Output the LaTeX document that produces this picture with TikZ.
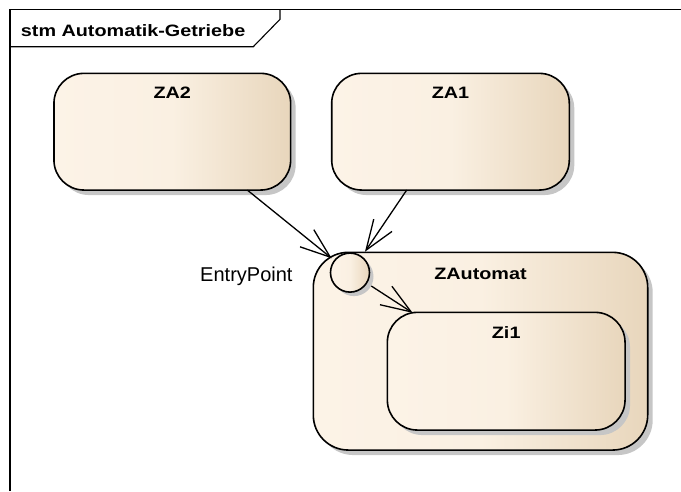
\documentclass[tikz,border=0pt]{standalone}
\usepackage{fontspec}
\setmainfont{Liberation Sans}
\newfontfamily\widesans[FakeStretch=1.2]{Liberation Sans}
\usetikzlibrary{arrows.meta,shadows,calc}
\definecolor{creamL}{HTML}{FCF3E7}
\definecolor{creamM}{HTML}{FAF0E2}
\definecolor{creamR}{HTML}{E8D6BC}
\definecolor{shadowgray}{HTML}{C6C6C6}
\tikzset{
  statebox/.style={draw, line width=1.6pt, rounded corners=#1, left color=creamL, right color=creamR, middle color=creamM,
    drop shadow={shadow xshift=5pt, shadow yshift=-5pt, fill=shadowgray, opacity=1}, inner sep=0pt, outer sep=0pt},
  statebox/.default=30pt,
  statelabel/.style={font=\widesans\bfseries\fontsize{16.5}{18}\selectfont, anchor=base, inner sep=0pt},
  arr/.style={line width=1.3pt, -{Straight Barb[length=30pt,width=22pt,line width=1.3pt]}},
}
\begin{document}
\begin{tikzpicture}[x=1pt,y=-1pt]
\useasboundingbox (0,0) rectangle (681,491);
% frame
\draw[line width=1.3pt] (10,491) -- (10,9.5) -- (681,9.5);
\draw[line width=1.1pt] (10,46.7) -- (253.3,46.7) -- (280,19.3) -- (280,9.5);
\node[anchor=base west, inner sep=0pt, font=\widesans\bfseries\fontsize{16.5}{18}\selectfont] (title) at (20.7,36) {stm Automatik-Getriebe};
% states
\node[statebox, minimum width=236.7pt, minimum height=116.7pt] (ZA2) at (172.3,131.7) {};
\node[statelabel] (ZA2t) at ([yshift=-24.7pt]ZA2.north) {ZA2};
\node[statebox, minimum width=237.6pt, minimum height=116.7pt] (ZA1) at (450.5,131.7) {};
\node[statelabel] (ZA1t) at ([yshift=-25pt]ZA1.north) {ZA1};
\node[statebox=35pt, minimum width=334.4pt, minimum height=197.7pt] (ZAutomat) at (480.5,351.2) {};
\node[statelabel] (ZAutomatt) at ([yshift=-26.7pt]ZAutomat.north) {ZAutomat};
\node[statebox, minimum width=237.7pt, minimum height=117.7pt] (Zi1) at (506.2,371.2) {};
\node[statelabel] (Zi1t) at ([yshift=-26pt]Zi1.north) {Zi1};
% entry point
\node[circle, draw, line width=1.6pt, minimum size=39pt, inner sep=0pt, outer sep=0pt, left color=creamL, right color=creamR, middle color=creamM,
  drop shadow={shadow xshift=4pt, shadow yshift=-4pt, fill=shadowgray, opacity=1}] (entry) at (350,272.6) {};
\node[anchor=base east, inner sep=0pt, font=\fontsize{20}{24}\selectfont] (eplabel) at (292.7,281.7) {EntryPoint};
% transitions
\draw[arr] ([xshift=75pt]ZA2.south) -- ([shift={(-18.3,-14.3)}]entry.center);
\draw[arr] ([xshift=-43.8pt]ZA1.south) -- ([shift={(15,-20.9)}]entry.center);
\draw[arr] ([shift={(21.3,13.4)}]entry.center) -- ([xshift=-93.5pt,yshift=-0.5pt]Zi1.north);
\end{tikzpicture}
\end{document}
